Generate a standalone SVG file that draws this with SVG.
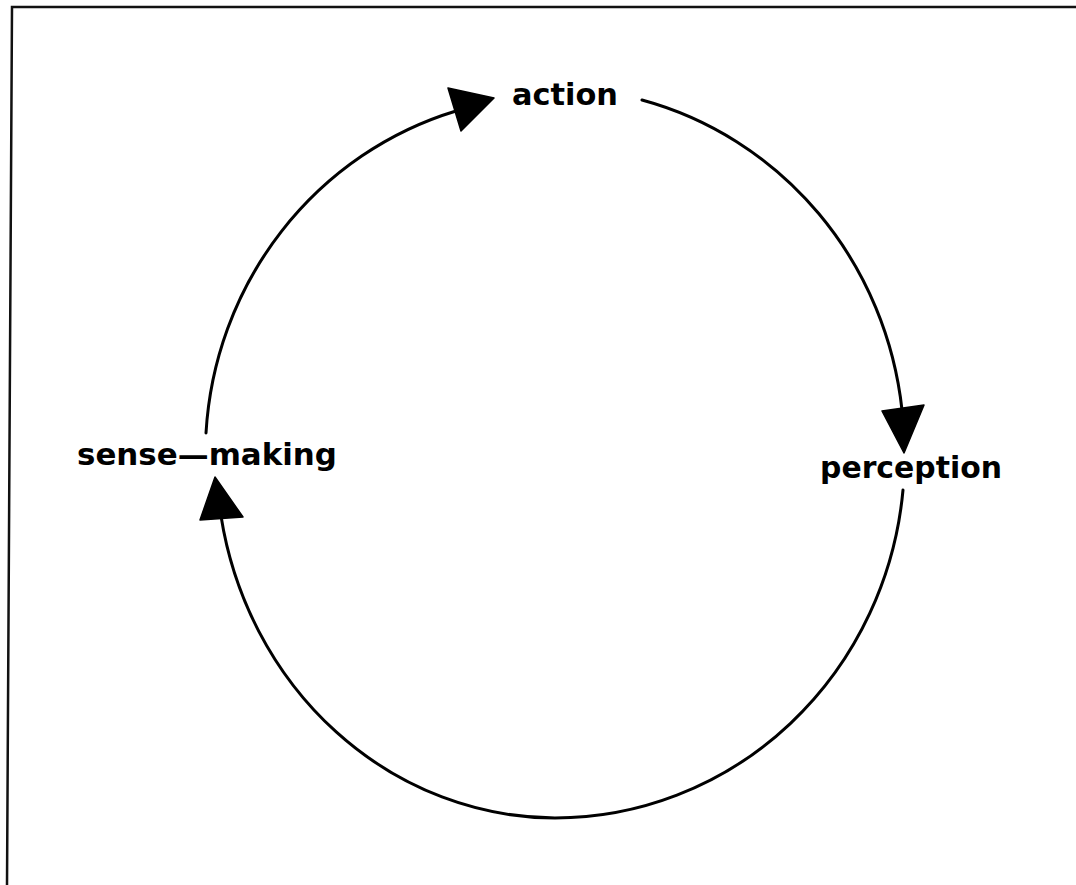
<svg xmlns="http://www.w3.org/2000/svg" width="1076" height="885" viewBox="0 0 1076 885">
<style>
.bg{fill:#ffffff}
.frame{fill:none;stroke:#111;stroke-width:2.5}
.conn{fill:none;stroke:#000;stroke-width:3;stroke-linecap:round}
.head{fill:#000;stroke:#000;stroke-width:1.5;stroke-linejoin:round}
.lbl{font-family:"DejaVu Sans","Liberation Sans",sans-serif;font-size:30px;font-weight:bold;fill:#000}
</style>
<rect class="bg" x="0" y="0" width="1076" height="885"/>
<path class="frame" d="M1076,7 L12,7 L7,885"/>
<g id="connectors">
<g id="edge-sensemaking-action">
<path class="conn" d="M206,433 A350 358 0 0 1 456,111"/>
<polygon class="head" points="448,88 494,98 461,131"/>
</g>
<g id="edge-action-perception">
<path class="conn" d="M642,100 A352 362 0 0 1 902,410"/>
<polygon class="head" points="882,411 924,405 904,453"/>
</g>
<g id="edge-perception-sensemaking">
<path class="conn" d="M903,490 A350 362 0 0 1 555,818 A340 362 0 0 1 221,516"/>
<polygon class="head" points="215,477 200,520 243,517"/>
</g>
</g>
<g id="node-action">
<text class="lbl" x="512" y="105" textLength="106" lengthAdjust="spacingAndGlyphs">action</text>
</g>
<g id="node-perception">
<text class="lbl" x="820" y="478" textLength="182" lengthAdjust="spacingAndGlyphs">perception</text>
</g>
<g id="node-sensemaking">
<text class="lbl" x="77" y="465" textLength="260" lengthAdjust="spacingAndGlyphs">sense—making</text>
</g>
</svg>
